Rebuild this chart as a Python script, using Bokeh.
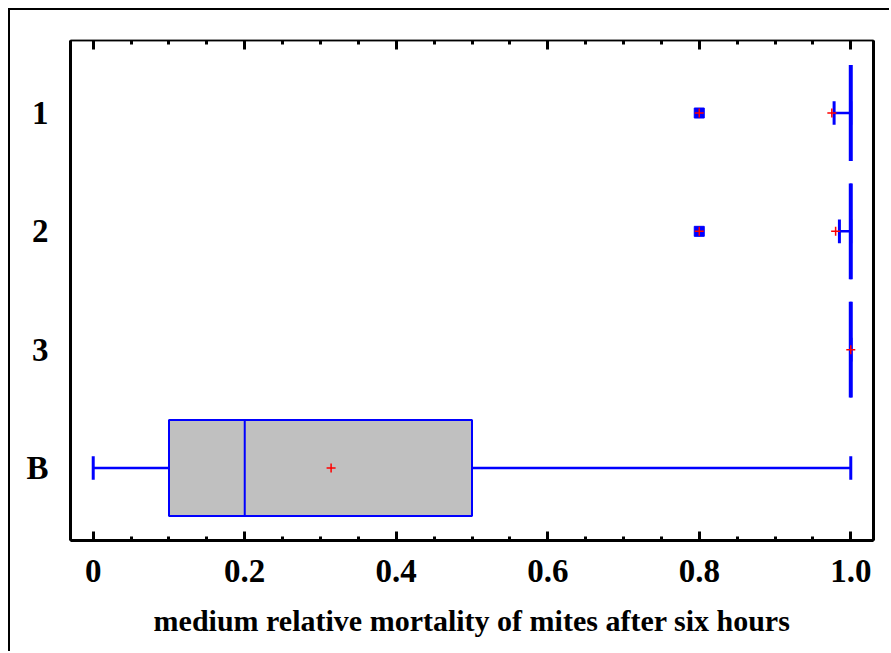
from bokeh.plotting import figure
from bokeh.models import FactorRange, Range1d, FixedTicker, LinearAxis, CategoricalAxis, ColumnDataSource
from bokeh.embed import file_html
from bokeh.resources import INLINE

# data
categories = ["1", "2", "3", "B"]
q1 = [1.0, 1.0, 1.0, 0.1]
median = [1.0, 1.0, 1.0, 0.2]
q3 = [1.0, 1.0, 1.0, 0.5]
lower = [0.978, 0.985, 1.0, 0.0]
upper = [1.0, 1.0, 1.0, 1.0]
mean = [0.975, 0.98, 1.0, 0.314]
outlier_cats = ["1", "2"]
outlier_vals = [0.8, 0.8]
x_ticks = [0, 0.2, 0.4, 0.6, 0.8, 1.0]
x_tick_labels = ["0", "0.2", "0.4", "0.6", "0.8", "1.0"]
x_minor = [0.05, 0.1, 0.15, 0.25, 0.3, 0.35, 0.45, 0.5, 0.55, 0.65, 0.7, 0.75, 0.85, 0.9, 0.95]
x_title = "medium relative mortality of mites after six hours"

FONT = "Liberation Serif"
BLUE = "#0000ff"

p = figure(width=881, height=643, output_backend="svg", toolbar_location=None,
           x_range=Range1d(-0.03, 1.03),
           y_range=FactorRange(factors=list(reversed(categories)), range_padding=0.113,
                               range_padding_units="absolute"),
           x_axis_location=None, y_axis_location=None,
           min_border_left=60, min_border_top=30, min_border_right=18, min_border_bottom=113)
p.styles = {"border-left": "2px solid black", "border-top": "2px solid black",
            "margin-left": "8px", "margin-top": "8px"}
p.grid.visible = False
p.outline_line_color = "#222222"
p.outline_line_width = 1.5
p.background_fill_color = "white"
p.border_fill_color = "white"

ticker = FixedTicker(ticks=x_ticks, minor_ticks=x_minor)

xb = LinearAxis(ticker=ticker, axis_label=x_title)
xb.major_label_overrides = {t: l for t, l in zip(x_ticks, x_tick_labels)}
xb.axis_line_width = 3
xb.major_tick_in = 9
xb.major_tick_out = 0
xb.minor_tick_in = 4
xb.minor_tick_out = 0
xb.major_tick_line_width = 3
xb.minor_tick_line_width = 3
xb.major_label_standoff = 19
xb.major_label_text_font = FONT
xb.major_label_text_font_style = "bold"
xb.major_label_text_font_size = "33px"
xb.major_label_text_color = "black"
xb.axis_label_text_font = FONT
xb.axis_label_text_font_style = "bold"
xb.axis_label_text_font_size = "30px"
xb.axis_label_text_color = "black"
xb.axis_label_standoff = 19
p.add_layout(xb, "below")

xt = LinearAxis(ticker=ticker)
xt.axis_line_width = 1.5
xt.major_tick_in = 9
xt.major_tick_out = 0
xt.minor_tick_in = 4
xt.minor_tick_out = 0
xt.major_tick_line_width = 3
xt.minor_tick_line_width = 3
xt.major_label_text_color = None
xt.major_label_text_font_size = "8px"
xt.major_label_standoff = 0
p.add_layout(xt, "above")

yl = CategoricalAxis()
yl.axis_line_width = 3
yl.major_tick_line_color = None
yl.minor_tick_line_color = None
yl.major_label_standoff = 16
yl.major_label_text_font = FONT
yl.major_label_text_font_style = "bold"
yl.major_label_text_font_size = "33px"
yl.major_label_text_color = "black"
p.add_layout(yl, "left")

yr = CategoricalAxis()
yr.axis_line_width = 3
yr.major_tick_line_color = None
yr.minor_tick_line_color = None
yr.major_label_text_color = None
yr.major_label_text_font_size = "8px"
yr.major_label_standoff = 0
p.add_layout(yr, "right")

# whiskers
p.segment(x0=lower, y0=categories, x1=q1, y1=categories, line_color=BLUE, line_width=2.5)
p.segment(x0=q3, y0=categories, x1=upper, y1=categories, line_color=BLUE, line_width=2.5)
# caps
p.hbar(y=categories, left=lower, right=lower, height=0.2, fill_color=None, line_color=BLUE, line_width=3)
p.hbar(y=categories, left=upper, right=upper, height=0.2, fill_color=None, line_color=BLUE, line_width=3)
# boxes
p.hbar(y=categories, left=q1, right=q3, height=0.81, fill_color="#c0c0c0", line_color=BLUE, line_width=2)
med_src = ColumnDataSource(dict(y=categories, m=median,
                                lw=[4 if a == b else 2 for a, b in zip(q1, q3)]))
p.hbar(y="y", left="m", right="m", height=0.81, fill_color=None, line_color=BLUE,
       line_width="lw", source=med_src)
# outliers
p.scatter(x=outlier_vals, y=outlier_cats, marker="square", size=10, fill_color=BLUE, line_color=BLUE)
p.scatter(x=outlier_vals, y=outlier_cats, marker="cross", size=9, line_color="red", line_width=1.5)
# means
p.scatter(x=mean, y=categories, marker="cross", size=9, line_color="red", line_width=1.5)

open("out.html", "w").write(file_html(p, INLINE))
